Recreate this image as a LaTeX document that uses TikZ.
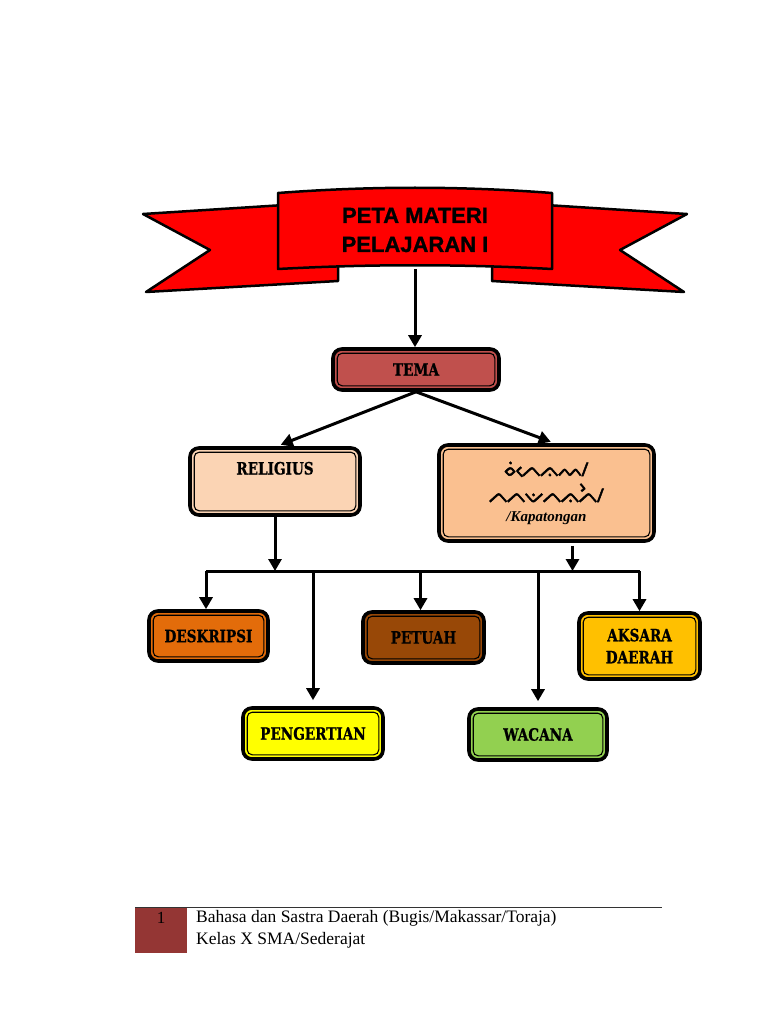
\documentclass[tikz,border=0pt]{standalone}
\usepackage{fontspec}
\usepackage{xcolor}
\usepackage{tikz}
\usetikzlibrary{arrows.meta, positioning, calc}
\setmainfont{Liberation Serif}
\newfontfamily\titlefont{Liberation Sans}[FakeBold=1.2]
\newfontfamily\slabfont{DejaVu Serif}[FakeStretch=0.8, FakeBold=0.8]
\IfFontExistsTF{Noto Sans Buginese}{\newfontfamily\lontarafont{Noto Sans Buginese}[FakeBold=2.5]}{\newcommand\lontarafont{}}

\definecolor{ribbonred}{HTML}{FF0000}
\definecolor{temared}{HTML}{C0504D}
\definecolor{peachlight}{HTML}{FBD4B4}
\definecolor{peach}{HTML}{FAC090}
\definecolor{orangedark}{HTML}{E36C0A}
\definecolor{brownish}{HTML}{984807}
\definecolor{amber}{HTML}{FFC000}
\definecolor{lemon}{HTML}{FFFF00}
\definecolor{leaf}{HTML}{92D050}
\definecolor{footred}{HTML}{943634}

\begin{document}
\begin{tikzpicture}[
        x=1pt, y=-1pt,
        every node/.style={font=\slabfont\bfseries\fontsize{17}{22}\selectfont},
        box/.style={draw=black, rectangle, rounded corners=9pt, line width=3.6pt, inner sep=0pt, align=center, text centered},
        rim/.style={draw=black, line width=1.1pt, rounded corners=5pt},
        ribbon/.style={fill=ribbonred, draw=black, line width=2.5pt, line join=round},
        line/.style={draw, line width=3pt, -{Triangle[width=13pt,length=12pt]}},
        bus/.style={draw, line width=3pt}
    ]
        \useasboundingbox[fill=white] (0,0) rectangle (768,1024);

        % Ribbon
        \path[ribbon] (143,214) -- (300,204) -- (338,262) -- (338,281) -- (146,292) -- (210,250) -- cycle;
        \path[ribbon] (687,214) -- (530,204) -- (492,262) -- (492,281) -- (684,292) -- (620,250) -- cycle;
        \path[ribbon] (278,193) .. controls (370,186) and (460,186) .. (552,193) -- (552,269)
            .. controls (460,264) and (370,264) .. (278,269) -- cycle;
        \node[minimum width=274pt, minimum height=78pt, align=center, font=\titlefont\bfseries\fontsize{22}{29}\selectfont]
            (title) at (415,230) {PETA MATERI\\PELAJARAN I};

        % Topics
        \node[box, fill=temared, minimum width=166pt, minimum height=41pt] (tema) at (416,369.5) {TEMA};
        \node[box, fill=peachlight, minimum width=170pt, minimum height=67pt, text height=12pt, text depth=26pt]
            (religius) at (275,481.5) {RELIGIUS};
        \node[box, fill=peach, minimum width=215pt, minimum height=96pt]
            (kapatongan) at (546.5,493) {{\lontarafont\mdseries\fontsize{19}{27}\selectfont ᨔᨗᨙᨈᨊᨓ/}\\[4pt]
            {\lontarafont\mdseries\fontsize{19}{27}\selectfont ᨈᨈᨉᨈᨊᨈᨛ/}\\[-3pt]
            {\rmfamily\bfseries\itshape\fontsize{15}{18}\selectfont /Kapatongan}};

        % Sub topics
        \node[box, fill=orangedark, minimum width=119pt, minimum height=50pt] (deskripsi) at (208.5,636) {DESKRIPSI};
        \node[box, fill=brownish, minimum width=121pt, minimum height=51pt] (petuah) at (423.5,637.5) {PETUAH};
        \node[box, fill=amber, minimum width=121pt, minimum height=66pt] (aksara) at (639.5,646) {AKSARA\\DAERAH};
        \node[box, fill=lemon, minimum width=140pt, minimum height=51pt] (pengertian) at (313,733.5) {PENGERTIAN};
        \node[box, fill=leaf, minimum width=138pt, minimum height=51pt] (wacana) at (538,734.5) {WACANA};

        \foreach \n in {tema, religius, kapatongan, deskripsi, petuah, aksara, pengertian, wacana}
            \draw[rim] ([shift={(6pt,-6pt)}]\n.north west) rectangle ([shift={(-6pt,6pt)}]\n.south east);

        % Connectors
        \coordinate (bus-w) at (206,571);
        \coordinate (bus-e) at (639.5,571);
        \draw[line] (title.south) -- (title.south |- tema.north);
        \draw[line, shorten >=4pt] (tema.south) -- ([xshift=2pt]religius.north);
        \draw[line, shorten >=4pt] (tema.south) -- ([xshift=8pt]kapatongan.north);
        \draw[line] (religius.south) -- (religius.south |- bus-w);
        \draw[line, shorten <=3pt] ([xshift=26pt]kapatongan.south) -- ([xshift=26pt]kapatongan.south |- bus-w);
        \draw[bus] (bus-w) -- (bus-e);
        \draw[line] (bus-w) -- (bus-w |- deskripsi.north);
        \draw[line, shorten >=6pt] (pengertian.north |- bus-w) -- (pengertian.north);
        \draw[line] ([xshift=-3pt]petuah.north |- bus-w) -- ([xshift=-3pt]petuah.north);
        \draw[line, shorten >=6pt] (wacana.north |- bus-w) -- (wacana.north);
        \draw[line] (bus-e) -- (aksara.north);

        % Footer
        \coordinate (rule-end) at (662,907);
        \node[anchor=north west, fill=footred, minimum width=52pt, inner sep=0pt, text height=16.5pt, text depth=29.5pt,
            font=\rmfamily\fontsize{17}{22}\selectfont] (pagenum) at (135,907) {1};
        \draw[line width=0.8pt, draw=black!80] (pagenum.north west) -- (rule-end);
        \node[anchor=north west, inner sep=0pt, align=left, font=\rmfamily\fontsize{17.5}{22}\selectfont]
            (footer) at (196,910) {Bahasa dan Sastra Daerah (Bugis/Makassar/Toraja)\\Kelas X SMA/Sederajat};
    \end{tikzpicture}
\end{document}
